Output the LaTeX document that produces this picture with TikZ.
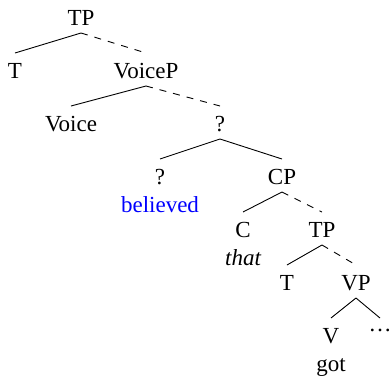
\documentclass[tikz,border=0pt]{standalone}
\usepackage{fontspec}
\setmainfont{Liberation Serif}
\begin{document}
\begin{tikzpicture}[x=1pt,y=-1pt,
  lbl/.style={anchor=base,inner sep=0pt,font=\fontsize{23}{27}\selectfont},
  word/.style={lbl},
  branch/.style={line width=0.9pt},
  hidden/.style={branch,dash pattern=on 7pt off 7pt}]
\useasboundingbox (0,0) rectangle (390,376);
% category labels, placed on their baselines
\node[lbl] (tp)     at (81,25)  {TP};
\node[lbl] (t)      at (15,78)  {T};
\node[lbl] (voicep) at (146,78) {VoiceP};
\node[lbl] (voice)  at (71,131) {Voice};
\node[lbl] (q)      at (220,131){?};
\node[lbl] (qv)     at (160,184){?};
\node[lbl] (cp)     at (282,184){CP};
\node[lbl] (c)      at (243,237){C};
\node[lbl] (tpb)    at (322,237){TP};
\node[lbl] (tb)     at (287,290){T};
\node[lbl] (vp)     at (356,290){VP};
\node[lbl] (v)      at (331,343){V};
\node[lbl] (dots)   at (380,331){\dots};
% words under their heads
\node[word,text=blue] (believed) at (160,212) {believed};
\node[word] (that) at (243,265) {\itshape that};
\node[word] (got)  at (331,371) {got};
% edge attachment points
\foreach \n/\x/\y in {tp/81/25, voicep/146/78, q/220/131, cp/282/184, tpb/322/237, vp/356/290}
  \coordinate (\n-low) at (\x,\y+8);
\foreach \n/\x/\y in {t/15/78, voicep/146/78, voice/71/131, q/220/131, qv/160/184, cp/282/184,
                      c/243/237, tpb/322/237, tb/287/290, vp/356/290, v/331/343, dots/380/343}
  \coordinate (\n-up) at (\x,\y-25);
% branches
\draw[branch] (tp-low) -- (t-up);
\draw[hidden] (tp-low) -- (voicep-up);
\draw[branch] (voicep-low) -- (voice-up);
\draw[hidden] (voicep-low) -- (q-up);
\draw[branch] (q-low) -- (qv-up);
\draw[branch] (q-low) -- (cp-up);
\draw[branch] (cp-low) -- (c-up);
\draw[hidden] (cp-low) -- (tpb-up);
\draw[branch] (tpb-low) -- (tb-up);
\draw[hidden] (tpb-low) -- (vp-up);
\draw[branch] (vp-low) -- (v-up);
\draw[branch] (vp-low) -- (dots-up);
\end{tikzpicture}
\end{document}
